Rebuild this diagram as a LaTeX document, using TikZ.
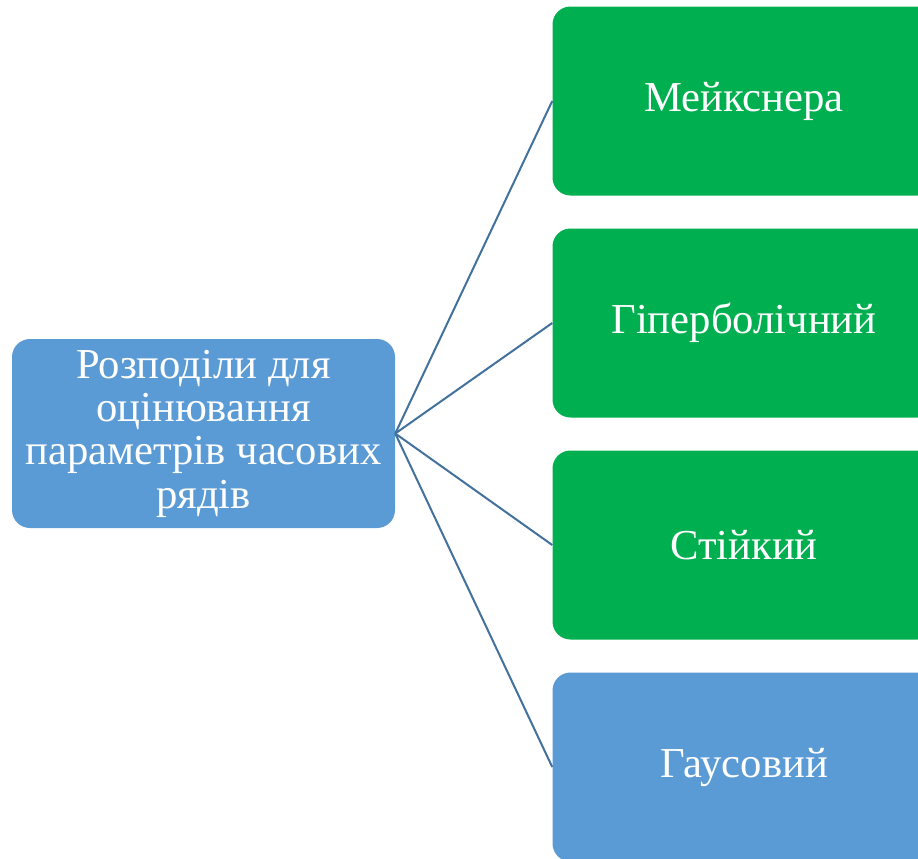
\documentclass[tikz,border=0pt]{standalone}
\usepackage{fontspec}
\setmainfont{Liberation Serif}
\definecolor{boxgreen}{HTML}{00B050}
\definecolor{boxblue}{HTML}{5B9BD5}
\definecolor{linkblue}{HTML}{41719C}
\tikzset{
	box/.style={rounded corners=13.5pt, minimum width=287.25pt, minimum height=141.75pt,
		text=white, align=center, inner sep=0pt, font=\fontsize{32}{32.5}\selectfont},
	link/.style={draw=linkblue, line width=1.5pt}
}
\begin{document}
\begin{tikzpicture}[x=0.75pt, y=-0.75pt]
		\useasboundingbox (0, 0) rectangle (918, 858);
		\clip (0, 0) rectangle (918, 858);
		\node[box, fill=boxblue] (root) at (203.5, 433.5)	{Розподіли для\\оцінювання\\параметрів часових\\рядів};
		\node[box, fill=boxgreen] (m) at (744, 101)		{Мейкснера};
		\node[box, fill=boxgreen] (h) at (744, 323)		{Гіперболічний};
		\node[box, fill=boxgreen] (s) at (744, 545)		{Стійкий};
		\node[box, fill=boxblue] (g) at (744, 767)		{Гаусовий};
		
		\draw[link] (root.east) -- (m.west);
		\draw[link] (root.east) -- (h.west);
		\draw[link] (root.east) -- (s.west);
		\draw[link] (root.east) -- (g.west);
	\end{tikzpicture}
\end{document}
